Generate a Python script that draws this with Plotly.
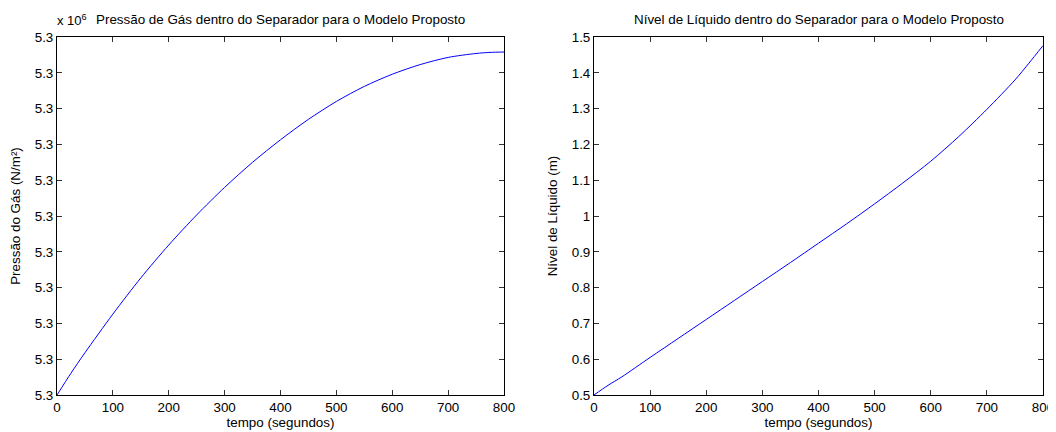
import plotly.graph_objects as go
from plotly.subplots import make_subplots

# ---- data ----
tempo = [0, 25, 50, 100, 150, 200, 250, 300, 350, 400, 450, 500, 550, 600, 650, 700, 750, 775, 800]
pressao = [5300000.0, 5300006.1, 5300011.8, 5300022.6, 5300032.7, 5300041.9, 5300050.3, 5300058.0,
           5300065.0, 5300071.3, 5300077.0, 5300082.0, 5300086.2, 5300089.6, 5300092.3, 5300094.3,
           5300095.4, 5300095.7, 5300095.8]
nivel = [0.500, 0.527, 0.551, 0.605, 0.658, 0.711, 0.764, 0.817, 0.870, 0.924, 0.978, 1.034,
         1.092, 1.153, 1.222, 1.298, 1.380, 1.427, 1.476]

x_ticks = [0, 100, 200, 300, 400, 500, 600, 700, 800]
p_ticks = [5300000, 5300010, 5300020, 5300030, 5300040, 5300050, 5300060, 5300070, 5300080, 5300090, 5300100]
p_ticktext = ["5.3"] * len(p_ticks)
n_ticks = [0.5, 0.6, 0.7, 0.8, 0.9, 1.0, 1.1, 1.2, 1.3, 1.4, 1.5]
n_ticktext = ["0.5", "0.6", "0.7", "0.8", "0.9", "1", "1.1", "1.2", "1.3", "1.4", "1.5"]

titulo_esq = "Pressão de Gás dentro do Separador para o Modelo Proposto"
titulo_dir = "Nível de Líquido dentro do Separador para o Modelo Proposto"

# page body has an 8px default margin, so the figure is shifted by 8px
OFF = 8
W, H = 1056 - OFF, 432 - OFF
FONT = "Liberation Sans, Arial, sans-serif"
FS = 13.4


def px(x):
    return (x - OFF) / W


def py(y):
    return 1 - (y - OFF) / H


fig = make_subplots(rows=1, cols=2)
fig.add_trace(go.Scatter(x=tempo, y=pressao, mode="lines", line=dict(color="#0000ff", width=1, shape="spline", smoothing=0.8),
                         showlegend=False), row=1, col=1)
fig.add_trace(go.Scatter(x=tempo, y=nivel, mode="lines", line=dict(color="#0000ff", width=1, shape="spline", smoothing=0.8),
                         showlegend=False), row=1, col=2)

top = py(37)
bot = py(395)

axis_common = dict(showline=True, linecolor="#000000", linewidth=1, mirror="ticks",
                   ticks="inside", ticklen=5, tickcolor="#333333", tickwidth=1,
                   showgrid=False, zeroline=False, automargin=False,
                   tickfont=dict(family=FONT, size=FS, color="#000000"))

fig.update_xaxes(**axis_common, range=[0, 800], tickvals=x_ticks,
                 title=dict(text="tempo (segundos)", font=dict(family=FONT, size=FS, color="#000000"), standoff=2))
fig.update_xaxes(domain=[px(57), px(504)], row=1, col=1)
fig.update_xaxes(domain=[px(594), px(1043)], row=1, col=2)

fig.update_yaxes(**axis_common)
fig.update_yaxes(domain=[bot, top], range=[p_ticks[0], p_ticks[-1]], tickvals=p_ticks, ticktext=p_ticktext,
                 title=dict(text="Pressão do Gás (N/m²)", font=dict(family=FONT, size=FS, color="#000000"), standoff=11),
                 row=1, col=1)
fig.update_yaxes(domain=[bot, top], range=[0.5, 1.5], tickvals=n_ticks, ticktext=n_ticktext,
                 title=dict(text="Nível de Líquido (m)", font=dict(family=FONT, size=FS, color="#000000"), standoff=11),
                 row=1, col=2)

fig.add_annotation(text=titulo_esq, x=px((57 + 504) / 2), y=py(20), xref="paper", yref="paper",
                   showarrow=False, font=dict(family=FONT, size=FS, color="#000000"), xanchor="center", yanchor="middle")
fig.add_annotation(text=titulo_dir, x=px((594 + 1043) / 2), y=py(20), xref="paper", yref="paper",
                   showarrow=False, font=dict(family=FONT, size=FS, color="#000000"), xanchor="center", yanchor="middle")
fig.add_annotation(text="x 10<sup>6</sup>", x=px(55), y=py(20), xref="paper", yref="paper",
                   showarrow=False, font=dict(family=FONT, size=13, color="#000000"), xanchor="left", yanchor="middle")

fig.update_layout(width=W, height=H, margin=dict(l=0, r=0, t=0, b=0),
                  paper_bgcolor="#ffffff", plot_bgcolor="#ffffff",
                  font=dict(family=FONT, size=FS, color="#000000"))

fig.write_html("out.html")
